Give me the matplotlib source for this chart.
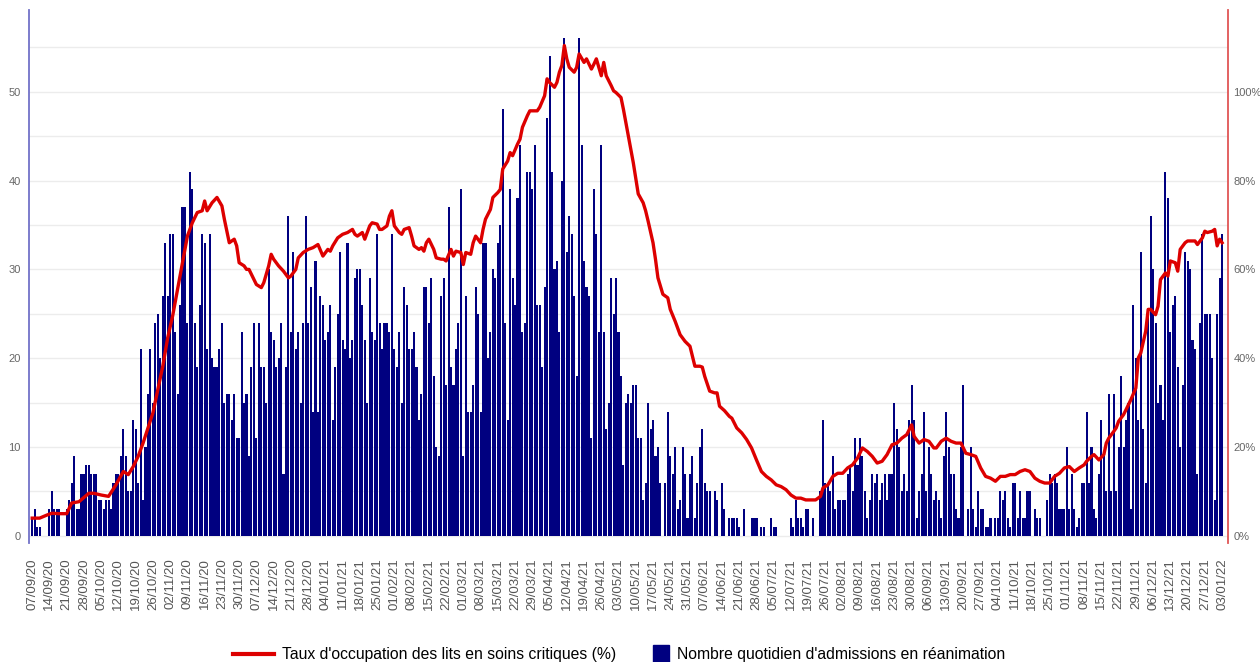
import matplotlib
matplotlib.use("Agg")
import matplotlib.pyplot as plt
import matplotlib.patches as mpatches
from matplotlib.legend_handler import HandlerPatch
from matplotlib.lines import Line2D
import numpy as np
import pandas as pd

START = "2020-09-07"

# admissions quotidiennes en réanimation (07/09/20 -> 03/01/22)
admissions = [
    2, 3, 1, 1, 0, 0, 0, 3, 5, 3, 3, 3, 0, 0, 3, 4, 6, 9, 3, 3, 7, 7, 8, 8, 7, 7, 7, 4, 4, 3, 4, 4, 3, 6, 7, 7, 9, 12, 9, 5,
    5, 13, 12, 6, 21, 4, 10, 16, 21, 15, 24, 25, 20, 27, 33, 27, 34, 34, 23, 16, 26, 37, 37, 24, 41, 39, 24, 19, 26, 34, 33, 21, 34, 20, 19, 19, 21, 24, 15, 16,
    16, 13, 16, 11, 11, 23, 15, 16, 9, 19, 24, 11, 24, 19, 19, 15, 30, 23, 22, 19, 20, 24, 7, 19, 36, 23, 32, 21, 23, 15, 24, 36, 24, 28, 14, 31, 14, 27, 26, 22,
    23, 26, 13, 19, 25, 32, 22, 21, 33, 20, 22, 29, 30, 30, 26, 22, 15, 29, 23, 22, 34, 24, 21, 24, 24, 23, 34, 21, 19, 23, 15, 28, 26, 21, 21, 23, 19, 13, 16, 28,
    28, 24, 29, 18, 10, 9, 27, 29, 17, 37, 19, 17, 21, 24, 39, 9, 27, 14, 14, 17, 28, 25, 14, 33, 33, 20, 23, 30, 29, 33, 35, 48, 24, 13, 39, 29, 26, 38, 44, 23,
    24, 41, 41, 39, 44, 26, 26, 19, 28, 47, 54, 41, 30, 31, 23, 40, 56, 32, 36, 34, 27, 18, 56, 44, 31, 28, 27, 11, 39, 34, 23, 44, 23, 12, 15, 29, 25, 29, 23, 18,
    8, 15, 16, 15, 17, 17, 11, 11, 4, 6, 15, 12, 13, 9, 10, 6, 0, 6, 14, 9, 7, 10, 3, 4, 10, 7, 2, 7, 9, 2, 6, 10, 12, 6, 5, 5, 0, 5, 4, 0,
    6, 3, 0, 2, 2, 2, 2, 1, 0, 3, 0, 0, 2, 2, 2, 0, 1, 1, 0, 0, 2, 1, 1, 0, 0, 0, 0, 0, 2, 1, 4, 2, 2, 1, 3, 3, 0, 2, 0, 0,
    5, 13, 6, 6, 5, 9, 3, 4, 4, 4, 4, 7, 8, 5, 11, 8, 11, 9, 5, 2, 4, 7, 6, 7, 4, 6, 7, 4, 7, 7, 15, 12, 10, 5, 7, 5, 13, 17, 13, 2,
    5, 7, 14, 5, 10, 7, 4, 5, 4, 2, 9, 14, 10, 7, 7, 3, 2, 10, 17, 0, 3, 10, 3, 1, 5, 3, 3, 1, 1, 2, 0, 2, 2, 5, 4, 5, 2, 1, 6, 6,
    2, 5, 2, 2, 5, 5, 0, 3, 2, 2, 0, 0, 4, 7, 6, 7, 6, 3, 3, 3, 10, 3, 7, 3, 1, 2, 6, 6, 14, 6, 10, 3, 2, 7, 13, 9, 5, 16, 5, 16,
    5, 10, 18, 10, 13, 15, 3, 26, 20, 13, 32, 12, 6, 25, 36, 30, 24, 15, 17, 13, 41, 38, 23, 26, 27, 19, 10, 17, 32, 31, 30, 22, 21, 7, 24, 34, 25, 25, 25, 20, 4, 25, 29, 34,
]

# taux d'occupation (%) : jour depuis le 07/09/20 et valeur lue
occ_day = [
    0, 3, 6, 8, 11, 14, 16, 19, 23, 25, 28, 31, 34, 37, 39,
    41, 43, 45, 47, 49, 51, 53, 55, 57, 59, 61, 63, 65, 67, 69, 70, 71, 73, 75, 77, 78, 80,
    82, 83, 84, 86, 87, 88, 90, 91, 93, 94, 96, 97, 98, 100, 102, 104, 105, 107, 108, 110, 112, 114, 116, 118, 120,
    121, 122, 124, 126, 128, 130, 131, 132, 134, 135, 137, 138, 140, 141, 142, 144, 145, 146, 147, 149, 150, 151, 153, 154, 155, 157, 158, 159, 160,
    161, 163, 164, 166, 167, 168, 170, 171, 172, 174, 175, 176, 178, 179, 180, 182, 183, 184, 186, 187, 189, 190, 191, 193, 194, 195, 197, 198, 199, 201,
    202, 204, 205, 206, 208, 209, 210, 212, 213, 214, 215, 216, 217, 218, 220, 221, 222, 224, 225, 227, 228, 229, 231, 232, 233, 235, 236, 237, 239,
    240, 242, 244, 246, 248, 249, 250, 252, 253, 254, 256, 258, 259, 261, 263, 265, 267, 269, 271, 272, 273, 275, 277, 278, 279, 281, 283,
    284, 286, 288, 290, 292, 294, 296, 298, 300, 302, 304, 306, 308, 310, 312, 314, 316, 318, 320, 321, 323,
    325, 327, 329, 331, 333, 335, 337, 339, 341, 343, 345, 347, 349, 351, 353, 355, 357, 358, 360, 362,
    364, 366, 367, 369, 371, 373, 375, 377, 379, 381, 383, 385, 387, 389, 391, 393, 395, 397, 399, 401, 403,
    405, 407, 409, 411, 413, 415, 417, 419, 421, 423, 425, 427, 428, 430, 431, 433, 435, 436, 437, 439, 440, 441, 443,
    444, 446, 448, 449, 450, 452, 453, 454, 456, 457, 458, 460, 461, 462, 464, 465, 466, 468, 469, 470, 472, 473, 475, 476, 477, 479, 480, 481, 482, 483,
]
occ_pct = [
    4.0, 4.0, 4.7, 5.1, 5.0, 5.0, 7.4, 7.7, 9.6, 9.6, 9.2, 8.9, 11.5, 14.5, 13.8,
    15.6, 17.9, 20.9, 24.3, 27.7, 32.9, 38.2, 44.6, 49.5, 55.5, 61.5, 67.5, 70.5, 72.8, 73.2, 75.4, 73.2, 75.0, 76.2, 74.3, 71.3, 66.0,
    66.8, 65.3, 61.5, 60.8, 60.0, 60.0, 57.7, 56.6, 55.9, 57.0, 60.8, 63.4, 62.3, 60.8, 59.6, 58.1, 58.5, 60.0, 62.6, 63.8, 64.5, 64.9, 65.6, 63.0, 64.5,
    64.1, 65.3, 67.1, 67.9, 68.3, 69.0, 67.9, 67.5, 68.3, 66.8, 69.8, 70.5, 70.2, 69.0, 69.0, 69.8, 72.0, 73.2, 69.8, 68.3, 67.9, 69.0, 69.4, 67.5, 65.3, 64.5, 64.9, 64.1, 66.0,
    66.8, 64.5, 62.6, 62.3, 62.3, 61.9, 64.5, 63.0, 64.1, 63.8, 61.1, 63.8, 63.4, 66.0, 67.5, 66.0, 69.0, 71.3, 73.5, 76.2, 77.3, 78.0, 82.6, 84.4, 86.3, 85.6, 88.2, 89.3, 92.0, 94.6,
    95.7, 95.7, 95.7, 96.5, 99.1, 102.9, 102.1, 101.0, 102.1, 104.4, 105.9, 110.4, 107.4, 105.5, 104.4, 105.5, 108.5, 106.6, 107.4, 105.1, 106.2, 107.4, 103.6, 106.6, 103.6, 101.4, 100.2, 99.8, 98.7,
    96.0, 90.0, 84.0, 77.0, 75.0, 73.2, 70.9, 66.0, 62.3, 58.1, 54.4, 53.6, 51.0, 48.3, 45.3, 43.8, 42.7, 38.2, 38.2, 38.0, 35.9, 32.6, 32.2, 32.2, 29.2, 28.2, 26.9,
    26.5, 24.3, 23.2, 21.7, 19.8, 17.1, 14.5, 13.4, 12.6, 11.5, 11.1, 10.4, 9.2, 8.5, 8.5, 8.1, 8.1, 8.1, 8.9, 10.8, 11.5,
    13.4, 14.1, 14.1, 15.3, 16.0, 17.5, 19.8, 19.0, 17.9, 16.4, 16.8, 18.3, 20.5, 20.9, 22.0, 22.8, 25.0, 22.4, 20.9, 21.7,
    21.3, 19.8, 19.8, 21.3, 22.0, 21.3, 20.9, 20.9, 18.6, 18.3, 17.9, 15.3, 13.4, 13.0, 12.3, 13.4, 13.4, 13.8, 13.8, 14.5, 14.9,
    14.5, 13.0, 12.3, 11.9, 11.9, 13.4, 14.1, 15.3, 15.6, 14.5, 15.3, 16.0, 16.8, 17.9, 18.3, 17.1, 18.3, 20.9, 22.0, 23.5, 24.3, 25.8, 27.3,
    28.4, 30.7, 33.3, 40.1, 41.2, 46.1, 51.0, 51.0, 49.8, 51.7, 57.7, 59.2, 58.5, 61.9, 61.5, 59.6, 64.5, 66.0, 66.4, 66.4, 66.4, 65.6, 67.1, 68.6, 68.3, 68.6, 69.0, 65.3, 66.8, 66.0,
]

LABEL_OCC = "Taux d'occupation des lits en soins critiques (%)"
LABEL_ADM = "Nombre quotidien d'admissions en réanimation"

NAVY = "#000080"
RED = "#dd0000"


def _square(legend, orig_handle, xdescent, ydescent, width, height, fontsize):
    side = 1.08 * fontsize
    return mpatches.Rectangle((width - side - xdescent, (height - side) / 2 - ydescent), side, side)


def main() -> None:
    plt.rcParams["font.family"] = ["Liberation Sans", "DejaVu Sans"]

    days = np.arange(len(admissions))
    dates = pd.date_range(START, periods=len(admissions), freq="D")
    tick_days = days[::7]
    tick_labels = [d.strftime("%d/%m/%y") for d in dates[::7]]

    fig = plt.figure(figsize=(12.6, 6.62), dpi=100)
    ax = fig.add_axes([29 / 1260, 1 - 543 / 662, (1228 - 29) / 1260, (543 - 10) / 662])

    ax.bar(days, admissions, width=0.84, color=NAVY, linewidth=0, zorder=2)
    ax.set_xlim(-1.3, 485.4)
    ax.set_ylim(-0.8, 59.2)
    ax.set_yticks(range(0, 51, 10))
    ax.set_yticks(range(5, 56, 10), minor=True)
    ax.set_axisbelow(True)
    ax.grid(axis="y", which="both", color="#ececec", linewidth=1)
    ax.set_xticks(tick_days)
    ax.set_xticklabels(tick_labels, rotation=90, va="top", ha="center")
    ax.tick_params(axis="x", length=0, labelsize=9.5, labelcolor="#555555", pad=11)
    ax.tick_params(axis="y", which="both", length=0, labelsize=8, labelcolor="#666666", pad=6)
    for s in ("top", "bottom", "right"):
        ax.spines[s].set_visible(False)
    ax.spines["left"].set_color("#7272c8")
    ax.spines["left"].set_linewidth(1.3)

    ax2 = ax.twinx()
    ax2.plot(occ_day, occ_pct, color=RED, linewidth=2.4, solid_joinstyle="round", zorder=3)
    ax2.set_ylim(-1.6, 118.4)
    ax2.set_yticks(range(0, 101, 20))
    ax2.set_yticklabels([f"{v}%" for v in range(0, 101, 20)])
    ax2.tick_params(axis="y", length=0, labelsize=8, labelcolor="#666666", pad=4)
    for s in ("top", "bottom", "left"):
        ax2.spines[s].set_visible(False)
    ax2.spines["right"].set_color("#e05555")
    ax2.spines["right"].set_linewidth(1.3)

    handles = [Line2D([], [], color=RED, linewidth=3), mpatches.Patch(color=NAVY)]
    fig.legend(
        handles, [LABEL_OCC, LABEL_ADM],
        loc="center", bbox_to_anchor=(0.491, 0.011), ncol=2, frameon=False,
        fontsize=11.3, handlelength=2.67, handletextpad=0.45, columnspacing=0.76,
        handler_map={mpatches.Patch: HandlerPatch(patch_func=_square)},
    )

    fig.savefig("out.png", dpi=100)
    plt.close(fig)


if __name__ == "__main__":
    main()
